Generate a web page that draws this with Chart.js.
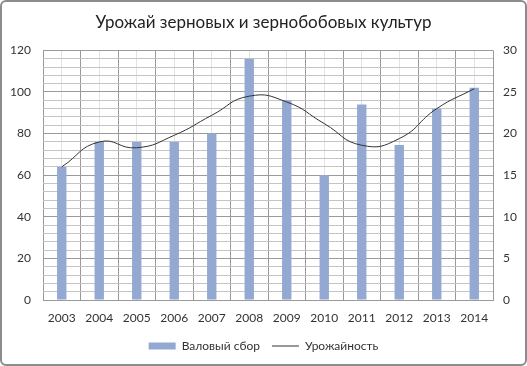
<!DOCTYPE html>
<html>
<head>
<meta charset="utf-8">
<script src="https://cdn.jsdelivr.net/npm/chart.js@4"></script>
<style>
  html, body { margin: 0; padding: 0; background: #fff; }
  .wrap {
    position: relative;
    width: 523px; height: 362px;
    border: 2px solid #8c8c8c;
    border-radius: 6px;
    overflow: hidden;
  }
</style>
</head>
<body>
<div class="wrap"><canvas id="harvestChart" width="523" height="362"></canvas></div>
<script>
const years = ["2003", "2004", "2005", "2006", "2007", "2008", "2009", "2010", "2011", "2012", "2013", "2014"];
// валовый сбор, левая ось
const grossHarvest = [64, 76, 76, 76, 80, 116, 96, 60, 94, 74.5, 92, 102];
// урожайность, правая ось
const yieldPerHa = [16, 19, 18.3, 19.8, 22.2, 24.5, 23.8, 21.2, 18.6, 19.4, 23, 25.4];

const ctx = document.getElementById("harvestChart");
const font = { family: "Lato, 'Open Sans', sans-serif", size: 12 };

new Chart(ctx, {
  data: {
    labels: years,
    datasets: [
      {
        type: "line",
        label: "Урожайность",
        data: yieldPerHa,
        yAxisID: "y1",
        borderColor: "#333333",
        backgroundColor: "#333333",
        borderWidth: 1,
        tension: 0.5,
        pointRadius: 0,
        pointStyle: "line",
        order: 0
      },
      {
        type: "bar",
        label: "Валовый сбор",
        data: grossHarvest,
        yAxisID: "y",
        backgroundColor: "#93a9d2",
        borderWidth: 0,
        barPercentage: 0.25,
        categoryPercentage: 1,
        pointStyle: "rect",
        order: 1
      }
    ]
  },
  options: {
    responsive: false,
    animation: false,
    layout: { padding: { left: 0, right: 0, top: 6, bottom: 2 } },
    plugins: {
      title: {
        display: true,
        text: "Урожай зерновых и зернобобовых культур",
        color: "#222",
        font: { family: "Lato, 'Open Sans', sans-serif", size: 17, weight: "normal" },
        padding: { top: 4, bottom: 18 }
      },
      legend: {
        position: "bottom",
        reverse: true,
        labels: {
          color: "#333",
          font: font,
          usePointStyle: true,
          pointStyleWidth: 27,
          boxHeight: 7,
          padding: 12
        }
      },
      tooltip: { enabled: false }
    },
    scales: {
      x: {
        offset: true,
        grid: { offset: true, color: "#9a9a9a", drawTicks: false },
        border: { color: "#9a9a9a" },
        ticks: { color: "#333", font: font, padding: 11, maxRotation: 0 },
        afterFit: (scale) => { scale.height = 28; }
      },
      x2: {
        offset: true,
        display: true,
        labels: years,
        grid: { offset: false, color: "#e2e2e2", drawTicks: false },
        border: { display: false },
        ticks: { display: false }
      },
      y: {
        position: "left",
        min: 0,
        max: 120,
        ticks: {
          stepSize: 4,
          maxTicksLimit: 40,
          autoSkip: false,
          color: "#333",
          font: font,
          padding: 12,
          callback: (v) => (v % 20 === 0 ? v : "")
        },
        grid: {
          color: (c) => (c.tick && c.tick.value % 20 === 0 ? "#9a9a9a" : "#c4c4c4"),
          drawTicks: false
        },
        border: { display: false },
        afterFit: (scale) => { scale.width = 41; }
      },
      y1: {
        position: "right",
        min: 0,
        max: 30,
        ticks: { stepSize: 5, color: "#333", font: font, padding: 10 },
        grid: { display: false, drawTicks: false },
        border: { display: false },
        afterFit: (scale) => { scale.width = 32; }
      }
    }
  }
});
</script>
</body>
</html>
